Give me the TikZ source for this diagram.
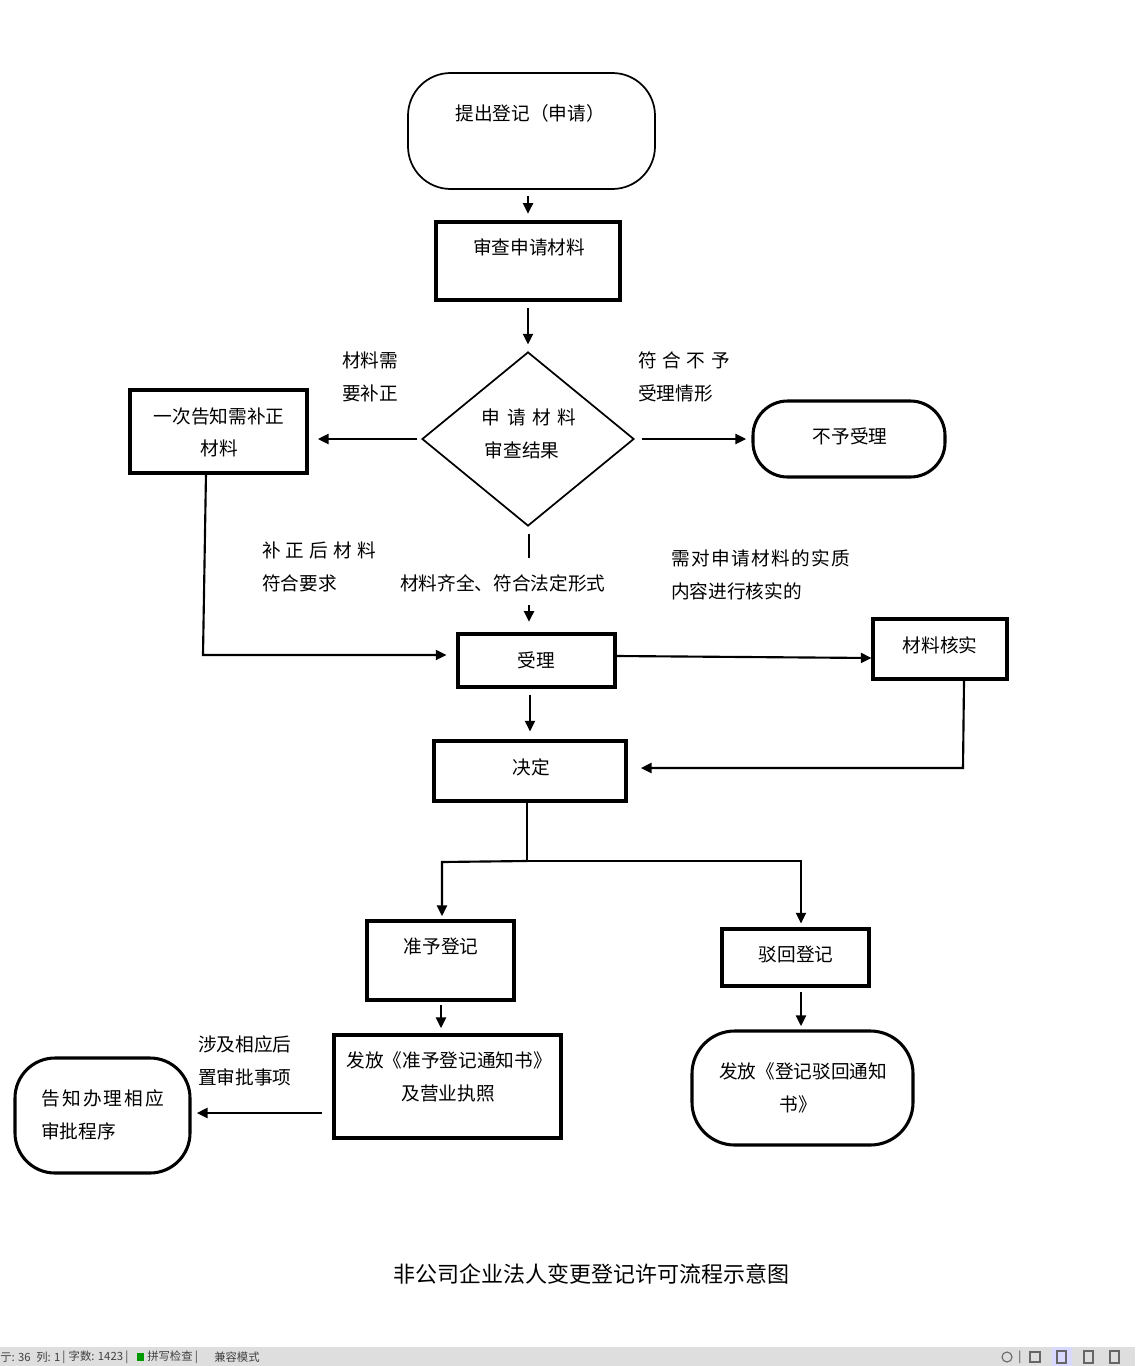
\documentclass[tikz,border=0pt]{standalone}
\usepackage{fontspec}
\setmainfont{Noto Sans CJK SC}
\usetikzlibrary{arrows.meta,fit,shapes.geometric}
\begin{document}
\begin{tikzpicture}[x=0.75pt,y=-0.75pt,
  thickbox/.style={draw,line width=2.3pt,inner sep=0pt},
  thinbox/.style={draw,line width=1.3pt,inner sep=0pt},
  txt/.style={font=\fontsize{14pt}{16pt}\selectfont,inner sep=0pt,align=center},
  lbl/.style={font=\fontsize{14pt}{16pt}\selectfont,inner sep=0pt,anchor=west},
  arr/.style={line width=1.6pt,-{Triangle[length=8pt,width=7.5pt]}},
  ln/.style={line width=1.6pt},
  sb/.style={font=\fontsize{8.5pt}{10pt}\selectfont,inner sep=0pt,anchor=west,text=black!75}]
\useasboundingbox (0,0) rectangle (1135,1366);
\fill[white] (0,0) rectangle (1135,1366);

% shapes
\node[thinbox,rounded corners=32pt,fit={(408,73)(655,189)}] (start) {};
\node[thickbox,fit={(436,222)(620,300)}] (check) {};
\node[draw,diamond,line width=1.3pt,inner sep=0pt,minimum width=159pt,minimum height=130.5pt] (dia) at (528,439) {};
\node[thickbox,fit={(130,390)(307,473)}] (notify) {};
\node[thickbox,rounded corners=26pt,fit={(753,401)(945,477)}] (refuse) {};
\node[thickbox,fit={(458,634)(615,687)}] (accept) {};
\node[thickbox,fit={(873,619)(1007,679)}] (verify) {};
\node[thickbox,fit={(434,741)(626,801)}] (decide) {};
\node[thickbox,fit={(367,921)(514,1000)}] (approve) {};
\node[thickbox,fit={(722,929)(869,986)}] (reject) {};
\node[thickbox,fit={(334,1035)(561,1138)}] (issue) {};
\node[thickbox,rounded corners=32pt,fit={(692,1031)(913,1145)}] (issue2) {};
\node[thickbox,rounded corners=30pt,fit={(15,1058)(190,1173)}] (tell) {};

% texts in shapes
\node[txt] (tstart) at (530,113) {提出登记（申请）};
\node[txt] (tcheck) at (529,247) {审查申请材料};
\node[txt] (tdia1) at (529,417) {申\hspace{0.35em}请\hspace{0.35em}材\hspace{0.35em}料};
\node[txt] (tdia2) at (522,450) {审查结果};
\node[txt] (tnot1) at (219,416) {一次告知需补正};
\node[txt] (tnot2) at (219,448) {材料};
\node[txt] (tref) at (850,436) {不予受理};
\node[txt] (tacc) at (536,660) {受理};
\node[txt] (tver) at (940,645) {材料核实};
\node[txt] (tdec) at (531,767) {决定};
\node[txt] (tapp) at (441,946) {准予登记};
\node[txt] (trej) at (796,954) {驳回登记};
\node[txt] (tiss1) at (449,1060) {发放《准予登记通知书》};
\node[txt] (tiss2) at (448,1093) {及营业执照};
\node[txt] (tiss3) at (803,1071) {发放《登记驳回通知};
\node[txt] (tiss4) at (798,1104) {书》};
\node[lbl] (ttell1) at (41,1098) {告\hspace{0.12em}知\hspace{0.12em}办\hspace{0.12em}理\hspace{0.12em}相\hspace{0.12em}应};
\node[lbl] (ttell2) at (41,1131) {审批程序};

% edge labels
\node[lbl] (l1a) at (342,360) {材料需};
\node[lbl] (l1b) at (342,393) {要补正};
\node[lbl] (l2a) at (638,360) {符\hspace{0.3em}合\hspace{0.3em}不\hspace{0.3em}予};
\node[lbl] (l2b) at (638,393) {受理情形};
\node[lbl] (l3a) at (262,550) {补\hspace{0.27em}正\hspace{0.27em}后\hspace{0.27em}材\hspace{0.27em}料};
\node[lbl] (l3b) at (262,583) {符合要求};
\node[lbl] (l4) at (400,583) {材料齐全、符合法定形式};
\node[lbl] (l5a) at (671,558) {需\hspace{0.07em}对\hspace{0.07em}申\hspace{0.07em}请\hspace{0.07em}材\hspace{0.07em}料\hspace{0.07em}的\hspace{0.07em}实\hspace{0.07em}质};
\node[lbl] (l5b) at (671,591) {内容进行核实的};
\node[lbl] (l6a) at (198,1044) {涉及相应后};
\node[lbl] (l6b) at (198,1077) {置审批事项};

% connectors
\draw[arr,shorten <=4.5pt,shorten >=5pt] (start.south -| check.north) -- (check.north);
\draw[arr,shorten <=5pt,shorten >=5pt] (check.south) -- (dia.north);
\draw[arr,shorten <=3pt,shorten >=7pt] (dia.west) -- (notify.east |- dia.west);
\draw[arr,shorten <=5pt,shorten >=4pt] (dia.east) -- (refuse.west |- dia.east);
\coordinate (m1) at (529,558);
\coordinate (m2) at (529,605);
\draw[ln,shorten <=5pt] (dia.south -| m1) -- (m1);
\draw[arr,shorten >=8pt] (m2) -- (m2 |- accept.north);
\coordinate (c1) at (203,655);
\draw[arr,shorten >=7.5pt] ([xshift=-9.4pt]notify.south) -- (c1) -- (c1 -| accept.west);
\draw[arr] (accept.east |- 0,656) -- (verify.west |- 0,658);
\coordinate (c2) at (963,768);
\draw[arr,shorten >=10pt] ([xshift=18pt]verify.south) -- (c2) -- (c2 -| decide.east);
\draw[arr,shorten <=4.5pt,shorten >=6pt] (accept.south -| 530,0) -- (decide.north -| 530,0);
\coordinate (c3) at (527,861);
\coordinate (c4) at (442,862);
\coordinate (c5) at (801,861);
\draw[ln] (decide.south -| c3) -- (c3);
\draw[arr,shorten >=2.5pt] (c3) -- (c4) -- (c4 |- approve.north);
\draw[arr,shorten >=3pt] (c3) -- (c5) -- (c5 |- reject.north);
\draw[arr,shorten <=2.5pt,shorten >=4pt] (approve.south -| 441,0) -- (issue.north -| 441,0);
\draw[arr,shorten <=3pt,shorten >=2.5pt] (reject.south -| 801,0) -- (issue2.north -| 801,0);
\draw[arr,shorten <=8pt,shorten >=4pt] (issue.west |- 0,1113) -- (tell.east |- 0,1113);

% caption
\node[font=\fontsize{16.5pt}{18pt}\selectfont,inner sep=0pt] (cap) at (591,1274) {非公司企业法人变更登记许可流程示意图};

% status bar
\fill[black!13] (0,1347) rectangle (1135,1366);
\node[sb] (s1) at (0,1357) {亍: 36\hspace{0.5em}列: 1};
\node[sb] (s2) at (62,1357) {|\hspace{0.3em}字数: 1423\hspace{0.2em}|};
\fill[green!60!black] (137,1353) rectangle (144,1361);
\node[sb] (s3) at (147,1357) {拼写检查\hspace{0.2em}|};
\node[sb] (s4) at (214,1357) {兼容模式};
\draw[black!60,line width=0.8pt] (1007,1357) circle (5);
\node[sb] (s5) at (1018,1357) {|};
\draw[black!60,line width=0.8pt] (1030,1352) rectangle (1040,1362);
\fill[blue!15] (1052,1347) rectangle (1072,1366);
\draw[black!60,line width=0.8pt] (1057,1351) rectangle (1066,1363);
\draw[black!60,line width=0.8pt] (1084,1351) rectangle (1093,1363);
\draw[black!60,line width=0.8pt] (1110,1351) rectangle (1119,1363);
\end{tikzpicture}
\end{document}
